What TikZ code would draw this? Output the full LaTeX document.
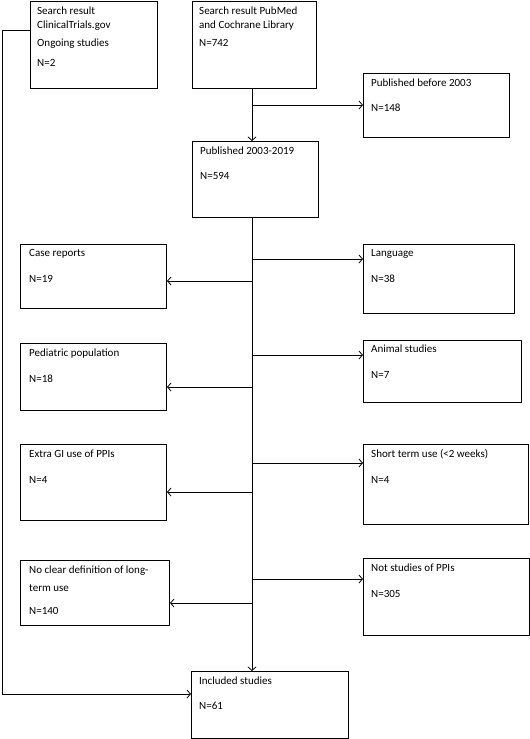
\documentclass[tikz,border=0pt]{standalone}
\usepackage{fontspec}
\setmainfont{Carlito}
\usetikzlibrary{arrows.meta,calc}
\begin{document}
\begin{tikzpicture}[x=1pt,y=-1pt,
  box/.style={draw,line width=1pt,inner sep=0pt,anchor=north west},
  txt/.style={anchor=north west,inner sep=0pt,align=left,font=\fontsize{11}{15}\selectfont},
  arr/.style={line width=1pt,-{Straight Barb[length=3.5pt,width=8pt,line width=0.8pt]}}]
\useasboundingbox (0,0) rectangle (530,739);
% boxes
\node[box,minimum width=127pt,minimum height=87pt] (ct) at (30,1) {};
\node[box,minimum width=124pt,minimum height=87pt] (pubmed) at (192,1) {};
\node[box,minimum width=146pt,minimum height=64pt] (before) at (363,73) {};
\node[box,minimum width=126pt,minimum height=76pt] (p2003) at (192,141) {};
\node[box,minimum width=146pt,minimum height=64.5pt] (case) at (20,243.5) {};
\node[box,minimum width=151pt,minimum height=69.5pt] (lang) at (363,243.5) {};
\node[box,minimum width=146pt,minimum height=67.5pt] (ped) at (20,342.5) {};
\node[box,minimum width=158pt,minimum height=62.5pt] (animal) at (363,339.5) {};
\node[box,minimum width=146pt,minimum height=76pt] (extra) at (20,443.5) {};
\node[box,minimum width=165pt,minimum height=80pt] (short) at (363,443.5) {};
\node[box,minimum width=149pt,minimum height=65pt] (noclear) at (20,560) {};
\node[box,minimum width=166pt,minimum height=77pt] (notppi) at (363,557.5) {};
\node[box,minimum width=157pt,minimum height=67pt] (inc) at (191,671) {};
% texts
\node[txt] (tct) at ($(ct.north west)+(7,5.5)$) {Search result\\[-1pt]ClinicalTrials.gov\\[3pt]Ongoing studies\\[5pt]N=2};
\node[txt] (tpub) at ($(pubmed.north west)+(7,5.5)$) {Search result PubMed\\[-1pt]and Cochrane Library\\[3pt]N=742};
\node[txt] (tbefore) at ($(before.north west)+(8,5.5)$) {Published before 2003\\[10pt]N=148};
\node[txt] (tp2003) at ($(p2003.north west)+(8,5.5)$) {Published 2003-2019\\[10pt]N=594};
\node[txt] (tcase) at ($(case.north west)+(9,6)$) {Case reports\\[11pt]N=19};
\node[txt] (tlang) at ($(lang.north west)+(8,6)$) {Language\\[11pt]N=38};
\node[txt] (tped) at ($(ped.north west)+(9,6)$) {Pediatric population\\[11pt]N=18};
\node[txt] (tanimal) at ($(animal.north west)+(8,5.5)$) {Animal studies\\[11pt]N=7};
\node[txt] (textra) at ($(extra.north west)+(9,6)$) {Extra GI use of PPIs\\[11pt]N=4};
\node[txt] (tshort) at ($(short.north west)+(8,6)$) {Short term use (<2 weeks)\\[11pt]N=4};
\node[txt] (tnoclear) at ($(noclear.north west)+(9,5.5)$) {No clear definition of long-\\[3pt]term use\\[8pt]N=140};
\node[txt] (tnotppi) at ($(notppi.north west)+(8,6)$) {Not studies of PPIs\\[11pt]N=305};
\node[txt] (tinc) at ($(inc.north west)+(8,5.5)$) {Included studies\\[10pt]N=61};
% spine coordinates
\coordinate (sp) at (252,0);
\coordinate (j0) at (252,105);
\coordinate (j1) at (252,259);
\coordinate (j2) at (252,281);
\coordinate (j3) at (252,355);
\coordinate (j4) at (252,387);
\coordinate (j5) at (252,463);
\coordinate (j6) at (252,492);
\coordinate (j7) at (252,579);
\coordinate (j8) at (252,603);
\coordinate (l1) at (2,30);
\coordinate (l2) at (2,694);
% connectors
\draw[arr] (pubmed.south -| sp) -- (p2003.north -| sp);
\draw[arr] (j0) -- (j0 -| before.west);
\draw[arr] (p2003.south -| sp) -- (inc.north -| sp);
\draw[arr] (j1) -- (j1 -| lang.west);
\draw[arr] (j2) -- (j2 -| case.east);
\draw[arr] (j3) -- (j3 -| animal.west);
\draw[arr] (j4) -- (j4 -| ped.east);
\draw[arr] (j5) -- (j5 -| short.west);
\draw[arr] (j6) -- (j6 -| extra.east);
\draw[arr] (j7) -- (j7 -| notppi.west);
\draw[arr] (j8) -- (j8 -| noclear.east);
\draw[arr] (l1 -| ct.west) -- (l1) -- (l2) -- (l2 -| inc.west);
\end{tikzpicture}
\end{document}
